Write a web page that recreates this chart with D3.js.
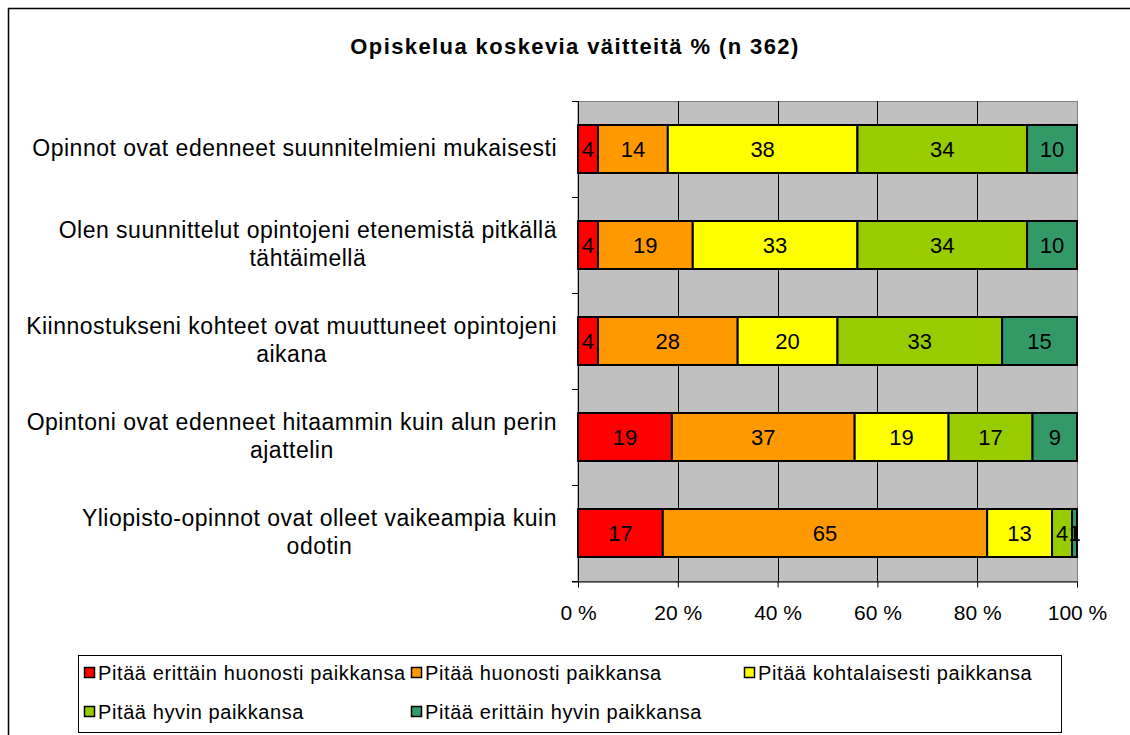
<!DOCTYPE html>
<html lang="fi">
<head>
<meta charset="UTF-8">
<title>Opiskelua koskevia väitteitä</title>
<script src="https://cdn.jsdelivr.net/npm/d3@7"></script>
<style>
  body { margin: 0; background: #fff; }
  svg { display: block; font-family: "Liberation Sans", Arial, sans-serif; }
</style>
</head>
<body>
<svg id="mainsvg" width="1130" height="735"></svg>
<script>
const categories = [
  "Opinnot ovat edenneet suunnitelmieni mukaisesti",
  "Olen suunnittelut opintojeni etenemistä pitkällä\ntähtäimellä",
  "Kiinnostukseni kohteet ovat muuttuneet opintojeni\naikana",
  "Opintoni ovat edenneet hitaammin kuin alun perin\najattelin",
  "Yliopisto-opinnot ovat olleet vaikeampia kuin\nodotin"
];
const seriesNames = [
  "Pitää erittäin huonosti paikkansa",
  "Pitää huonosti paikkansa",
  "Pitää kohtalaisesti paikkansa",
  "Pitää hyvin paikkansa",
  "Pitää erittäin hyvin paikkansa"
];
const colors = ["#ff0000", "#ff9900", "#ffff00", "#99cc00", "#339966"];
// values per series, one per category (%)
const erittainHuonosti = [4, 4, 4, 19, 17];
const huonosti = [14, 19, 28, 37, 65];
const kohtalaisesti = [38, 33, 20, 19, 13];
const hyvin = [34, 34, 33, 17, 4];
const erittainHyvin = [10, 10, 15, 9, 1];
const xTicks = [0, 20, 40, 60, 80, 100];

const svg = d3.select('#mainsvg');
const W = +svg.attr('width'), H = +svg.attr('height');

// outer frame
svg.append('rect').attr('x', 8.5).attr('y', 8.5).attr('width', W + 10).attr('height', H + 10)
  .attr('fill', 'none').attr('stroke', '#000').attr('stroke-width', 1.5);

svg.append('text').attr('x', 575).attr('y', 54).attr('text-anchor', 'middle')
  .attr('font-size', 22).attr('font-weight', 'bold').attr('letter-spacing', 1.4)
  .text('Opiskelua koskevia väitteitä % (n 362)');

const plot = {left: 578, right: 1077, top: 101, bottom: 581};
const g = svg.append('g');

const series = [erittainHuonosti, huonosti, kohtalaisesti, hyvin, erittainHyvin];
const data = categories.map((c, i) => {
  const row = {cat: c};
  seriesNames.forEach((s, j) => row[s] = series[j][i]);
  return row;
});
const stack = d3.stack().keys(seriesNames).offset(d3.stackOffsetExpand)(data);

const xScale = d3.scaleLinear().domain([0, 1]).range([plot.left, plot.right]);
const yScale = d3.scaleBand().domain(categories).range([plot.top, plot.bottom])
  .paddingInner(0.5).paddingOuter(0.25);

// plot background
g.append('rect').attr('x', plot.left).attr('y', plot.top + 0.5)
  .attr('width', plot.right - plot.left + 0.5).attr('height', plot.bottom - plot.top)
  .attr('fill', '#c0c0c0').attr('stroke', '#808080');

// gridlines
g.selectAll('.grid').data(xTicks.slice(1, -1)).join('line')
  .attr('x1', d => Math.round(xScale(d / 100)) + 0.5).attr('x2', d => Math.round(xScale(d / 100)) + 0.5)
  .attr('y1', plot.top).attr('y2', plot.bottom)
  .attr('stroke', '#000').attr('stroke-width', 1);

// bars
const groups = g.selectAll('.datagroup').data(stack).join('g')
  .attr('fill', (d, i) => colors[i]);
groups.selectAll('rect').data(d => d).join('rect')
  .attr('x', d => xScale(d[0]))
  .attr('width', d => xScale(d[1]) - xScale(d[0]))
  .attr('y', d => yScale(d.data.cat))
  .attr('height', yScale.bandwidth())
  .attr('stroke', '#000').attr('stroke-width', 2);

groups.selectAll('text').data(d => d.map(v => ({v, key: d.key}))).join('text')
  .attr('x', d => (xScale(d.v[0]) + xScale(d.v[1])) / 2)
  .attr('y', d => yScale(d.v.data.cat) + yScale.bandwidth() / 2 + 8)
  .attr('text-anchor', 'middle').attr('font-size', 22).attr('fill', '#000')
  .text(d => d.v.data[d.key]);

// y axis
g.append('line').attr('x1', plot.left + 0.5).attr('x2', plot.left + 0.5)
  .attr('y1', plot.top).attr('y2', plot.bottom).attr('stroke', '#000');
const bandStep = yScale.step();
g.selectAll('.ytick').data(d3.range(categories.length + 1)).join('line')
  .attr('x1', plot.left - 6).attr('x2', plot.left)
  .attr('y1', d => plot.top + d * bandStep + 0.5).attr('y2', d => plot.top + d * bandStep + 0.5)
  .attr('stroke', '#000');

// category labels
categories.forEach(c => {
  const lines = c.split('\n');
  const cy = yScale(c) + yScale.bandwidth() / 2;
  const t = g.append('text').attr('font-size', 23).attr('letter-spacing', 0.5)
    .attr('text-anchor', 'middle').attr('fill', '#000');
  lines.forEach((l, i) => {
    t.append('tspan').attr('y', cy + 6.5 + (i - (lines.length - 1) / 2) * 28).text(l);
  });
  const maxW = d3.max(t.selectAll('tspan').nodes(), n => n.getComputedTextLength());
  t.selectAll('tspan').attr('x', 557 - maxW / 2);
});

// x axis
const xAxis = d3.axisBottom(xScale).tickValues(xTicks.map(d => d / 100))
  .tickFormat(d => Math.round(d * 100) + ' %').tickSizeInner(6).tickSizeOuter(0);
const xg = g.append('g').attr('transform', `translate(0, ${plot.bottom + 0.5})`).call(xAxis);
xg.select('.domain').attr('stroke', '#000').attr('d', `M${plot.left - 6},0.5H${plot.right}`);
xg.selectAll('.tick line').attr('stroke', '#000');
xg.selectAll('.tick text').attr('font-size', 21).attr('fill', '#000').attr('y', 38).attr('dy', 0)
  .attr('font-family', '"Liberation Sans", Arial, sans-serif');

// legend
svg.append('rect').attr('x', 78.5).attr('y', 655.5).attr('width', 983).attr('height', 77)
  .attr('fill', '#fff').attr('stroke', '#000');
const legendPos = [[84, 673], [411, 673], [744, 673], [84, 712], [411, 712]];
seriesNames.forEach((s, i) => {
  const [lx, ly] = legendPos[i];
  svg.append('rect').attr('x', lx + 0.5).attr('y', ly - 5.5).attr('width', 10).attr('height', 10)
    .attr('fill', colors[i]).attr('stroke', '#000').attr('stroke-width', 1.5);
  svg.append('text').attr('x', lx + 14).attr('y', ly + 7).attr('font-size', 20)
    .attr('letter-spacing', 0.6).text(s);
});
</script>
</body>
</html>
